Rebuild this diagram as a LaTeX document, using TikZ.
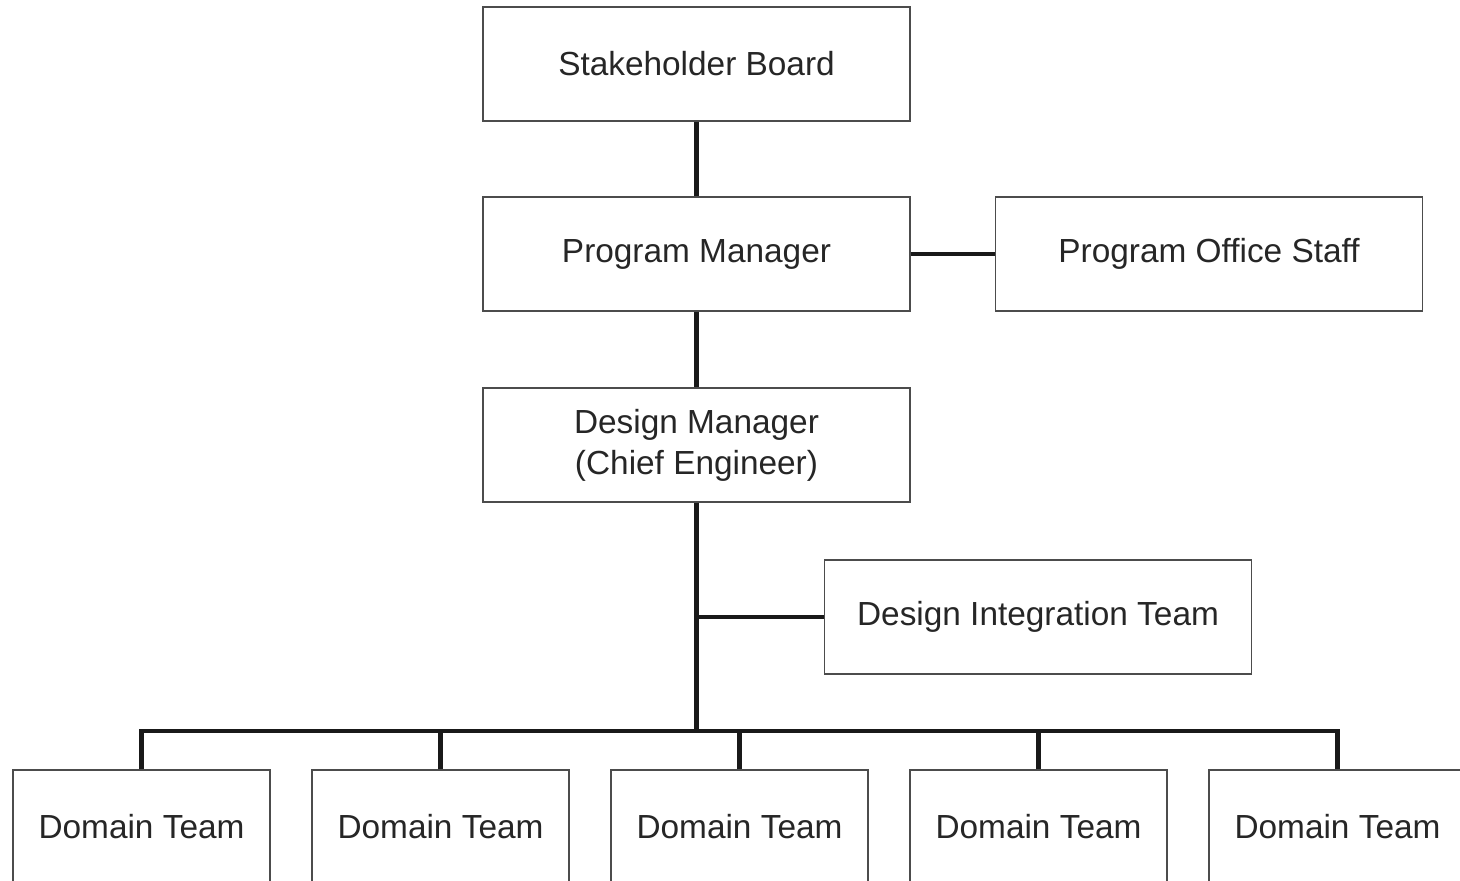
\documentclass[tikz,border=0pt]{standalone}
\usepackage{fontspec}
\setmainfont{Liberation Sans}
\usepackage{tikz}

\begin{document}
\begin{tikzpicture}[x=0.02cm,y=-0.02cm,
    box/.style={draw=black!70,line width=0.85pt,fill=white,minimum width=8.54cm,minimum height=2.28cm,
      align=center,inner sep=0pt,font=\fontsize{19}{23.3}\selectfont,text=black!85},
    teambox/.style={box,minimum width=5.14cm},
    link/.style={line width=2.3pt,draw=black!90}]
    \useasboundingbox (0,0) rectangle (1460,880);
              \node[box] (board) at (696.5,64) {Stakeholder Board};
              \node[box] (pm) at (696.5,254) {Program Manager};
              \node[box] (staff) at (1209,254) {Program Office Staff};
              \node[box] (dm) at (696.5,445) {Design Manager\\(Chief Engineer)};
              \node[box] (dit) at (1038,617) {Design Integration Team};
              \foreach \i/\x in {1/141.5,2/440.5,3/739.5,4/1038.5,5/1337.5}
                 \node[teambox] (d\i) at (\x,827) {Domain Team};
              \coordinate (bus) at (696.5,731);
                \draw[link] (board) -- (pm);
                \draw[link] (pm) -- (staff);
                \draw[link] (pm) -- (dm);
                \draw[link] (dm) -- (bus);
                \draw[link] (dit.west) -- (dit.west -| bus);
                \draw[link] (d1.north) |- (bus) -| (d5.north);
                \foreach \i in {2,3,4}
                   \draw[link] (d\i.north) -- (d\i.north |- bus);
          \end{tikzpicture}
\end{document}
